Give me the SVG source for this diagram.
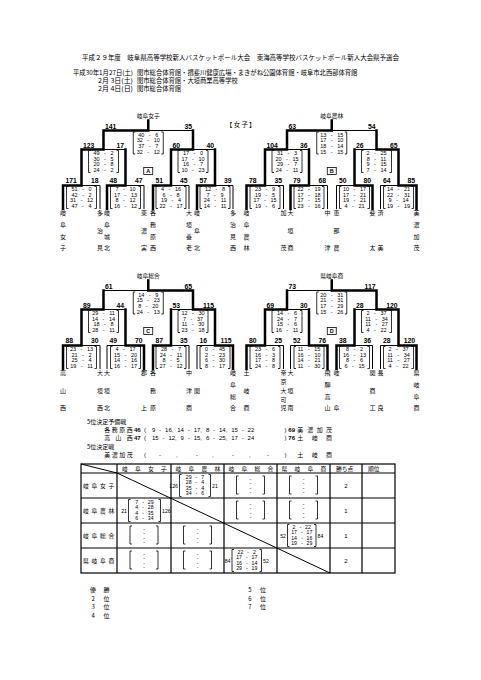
<svg xmlns="http://www.w3.org/2000/svg" width="481" height="680" viewBox="0 0 481 680">
<style>
text{font-family:"Noto Sans CJK JP","Noto Sans CJK SC",sans-serif;fill:#000}
.hd{font-size:6.3px}
.ttl{font-size:5.8px;text-anchor:middle}
.nm{font-size:6px;text-anchor:middle}
.lb{font-family:"Liberation Sans",Arial,sans-serif;font-size:6.8px;font-weight:bold}
.lbr{font-family:"Liberation Sans",Arial,sans-serif;font-size:6.8px;font-weight:bold;text-anchor:end}
.sc{font-family:"Liberation Sans",Arial,sans-serif;font-size:5.5px;text-anchor:middle;word-spacing:3px}
.blk{font-family:"Liberation Sans",Arial,sans-serif;font-size:5.5px;font-weight:bold;text-anchor:middle}
.thin{fill:none;stroke:#000;stroke-width:1}
.thick{fill:none;stroke:#000;stroke-width:2.5;stroke-linecap:square}
.bk{fill:none;stroke:#000;stroke-width:0.8}
.tb{fill:none;stroke:#000;stroke-width:1.2}
.ts{font-family:"Liberation Sans",Arial,sans-serif;font-size:5.2px;text-anchor:middle;word-spacing:2.5px}
.tn{font-family:"Liberation Sans",Arial,sans-serif;font-size:5.2px}
.tne{font-family:"Liberation Sans",Arial,sans-serif;font-size:5.2px;text-anchor:end}
.td{font-family:"Liberation Sans",Arial,sans-serif;font-size:5px;text-anchor:middle}
.r5{font-size:6px}
.num{font-family:"Liberation Sans",Arial,sans-serif;font-size:6px}
.numb{font-family:"Liberation Sans",Arial,sans-serif;font-size:6px;font-weight:bold}
.th{font-size:5.8px}
.pt{font-family:"Liberation Sans",Arial,sans-serif;font-size:6px;text-anchor:middle}
</style>
<defs>
<path id="skel" class="thin" d="M103.5,130.5H193M103.5,130.5V149.5M193,130.5V149.5M81.5,149.5H125.5M171,149.5H215M81.5,149.5V185.5M125.5,149.5V185.5M171,149.5V185.5M215,149.5V185.5M63,185.5H100M107,185.5H144M153,185.5H189M197,185.5H233M63,185.5V209M100,185.5V209M107,185.5V209M144,185.5V209M153,185.5V209M189,185.5V209M197,185.5V209M233,185.5V209"/>
<path id="bk" class="bk" d="M-13,0H-15V22H-13M13,0H15V22H13"/>
<g id="empty">
<path class="bk" d="M-12,3H-14V21H-12M12,3H14V21H12"/>
<text class="td"><tspan x="0" y="7.6">-</tspan><tspan x="0" y="11.6">-</tspan><tspan x="0" y="16.6">-</tspan><tspan x="0" y="21.2">-</tspan></text>
</g>
</defs>
<rect width="481" height="680" fill="#fff"/>

<g id="header">
<text class="hd" x="82" y="59.5" textLength="317" lengthAdjust="spacingAndGlyphs">平成２９年度　岐阜県高等学校新人バスケットボール大会　東海高等学校バスケットボール新人大会県予選会</text>
<text class="hd" x="73" y="74.5" textLength="60" lengthAdjust="spacingAndGlyphs">平成30年1月27日(土)</text>
<text class="hd" x="137" y="74.5">関市総合体育館・揖斐川健康広場・まきがね公園体育館・岐阜市北西部体育館</text>
<text class="hd" x="98" y="82.5" textLength="35" lengthAdjust="spacingAndGlyphs">2月 3日(土)</text>
<text class="hd" x="137" y="82.5">関市総合体育館・大垣商業高等学校</text>
<text class="hd" x="98" y="90.5" textLength="35" lengthAdjust="spacingAndGlyphs">2月 4日(日)</text>
<text class="hd" x="137" y="90.5">関市総合体育館</text>
<text class="hd" x="226" y="127.2">【 女 子 】</text>
</g>

<g id="connectors">
<g id="conn-A">
<use href="#skel"/>
<path class="thick" d="M63,209V185.5H81.5V149.5M107,209V185.5H125.5V149.5M153,209V185.5H171V149.5M197,209V185.5H215V149.5M81.5,149.5H103.5V130.5M171,149.5H193V130.5M103.5,130.5H148.25V120.5"/>
</g>
<g id="conn-B" transform="translate(183.5,0)">
<use href="#skel"/>
<path class="thick" d="M63,209V185.5H81.5V149.5M107,209V185.5H125.5V149.5M189,209V185.5H171V149.5M233,209V185.5H215V149.5M81.5,149.5H103.5V130.5M215,149.5H193V130.5M103.5,130.5H148.25V120.5"/>
</g>
<g id="conn-C" transform="translate(0,160)">
<use href="#skel"/>
<path class="thick" d="M63,209V185.5H81.5V149.5M144,209V185.5H125.5V149.5M153,209V185.5H171V149.5M233,209V185.5H215V149.5M81.5,149.5H103.5V130.5M215,149.5H193V130.5M193,130.5H148.25V120.5"/>
</g>
<g id="conn-D" transform="translate(183.5,160)">
<use href="#skel"/>
<path class="thick" d="M63,209V185.5H81.5V149.5M144,209V185.5H125.5V149.5M153,209V185.5H171V149.5M233,209V185.5H215V149.5M81.5,149.5H103.5V130.5M215,149.5H193V130.5M193,130.5H148.25V120.5"/>
</g>
</g>

<!-- Block A -->
<g id="block-A">
<g id="A-title"><text class="ttl" x="148.25" y="117.5">岐阜女子</text></g>
<g id="A-label"><rect class="bk" x="143.75" y="167.5" width="9" height="7"/><text class="blk" x="148.25" y="173.2">A</text></g>
<g id="A-points">
<text class="lb" x="105" y="128.5">141</text><text class="lbr" x="192" y="128.5">35</text>
<text class="lb" x="83" y="147.5">123</text><text class="lbr" x="124" y="147.5">17</text>
<text class="lb" x="172.5" y="147.5">60</text><text class="lbr" x="214" y="147.5">40</text>
<text class="lb" x="65.5" y="182.5">171</text><text class="lbr" x="98.5" y="182.5">18</text>
<text class="lb" x="109.5" y="182.5">48</text><text class="lbr" x="142.5" y="182.5">47</text>
<text class="lb" x="155.5" y="182.5">51</text><text class="lbr" x="187.5" y="182.5">45</text>
<text class="lb" x="199.5" y="182.5">57</text><text class="lbr" x="231.5" y="182.5">39</text>
</g>
<g id="A-f"><use href="#bk" x="148.25" y="132"/><text class="sc"><tspan x="148.25" y="136.5">40 - 6</tspan><tspan x="148.25" y="142.2">32 - 10</tspan><tspan x="148.25" y="147.8">37 - 7</tspan><tspan x="148.25" y="153.5">32 - 12</tspan></text></g>
<g id="A-s1"><use href="#bk" x="103.5" y="150.5"/><text class="sc"><tspan x="103.5" y="155">49 - 2</tspan><tspan x="103.5" y="160.7">30 - 5</tspan><tspan x="103.5" y="166.3">20 - 8</tspan><tspan x="103.5" y="172">24 - 2</tspan></text></g>
<g id="A-s2"><use href="#bk" x="193" y="150.5"/><text class="sc"><tspan x="193" y="155">17 - 0</tspan><tspan x="193" y="160.7">17 - 10</tspan><tspan x="193" y="166.3">16 - 7</tspan><tspan x="193" y="172">10 - 23</tspan></text></g>
<g id="A-q1"><use href="#bk" x="81.5" y="186.5"/><text class="sc"><tspan x="81.5" y="191">51 - 0</tspan><tspan x="81.5" y="196.7">42 - 2</tspan><tspan x="81.5" y="202.3">31 - 12</tspan><tspan x="81.5" y="208">47 - 4</tspan></text></g>
<g id="A-q2"><use href="#bk" x="125.5" y="186.5"/><text class="sc"><tspan x="125.5" y="191">7 - 10</tspan><tspan x="125.5" y="196.7">17 - 13</tspan><tspan x="125.5" y="202.3">8 - 12</tspan><tspan x="125.5" y="208">16 - 12</tspan></text></g>
<g id="A-q3"><use href="#bk" x="171" y="186.5"/><text class="sc"><tspan x="171" y="191">4 - 16</tspan><tspan x="171" y="196.7">6 - 8</tspan><tspan x="171" y="202.3">19 - 4</tspan><tspan x="171" y="208">22 - 17</tspan></text></g>
<g id="A-q4"><use href="#bk" x="215" y="186.5"/><text class="sc"><tspan x="215" y="191">12 - 8</tspan><tspan x="215" y="196.7">7 - 9</tspan><tspan x="215" y="202.3">24 - 11</tspan><tspan x="215" y="208">14 - 11</tspan></text></g>
<g id="A-t1"><text class="nm" x="63 63 63 63" y="215.4 227.1 238.7 250.4">岐阜女子</text></g>
<g id="A-t2"><text class="nm" x="100 100 100" y="215.4 232.9 250.4">多治見</text></g>
<g id="A-t3"><text class="nm" x="107 107 107 107" y="215.4 227.1 238.7 250.4">岐阜城北</text></g>
<g id="A-t4"><text class="nm" x="144 144 144" y="215.4 232.9 250.4">東濃実</text></g>
<g id="A-t5"><text class="nm" x="153 153 153 153" y="215.4 227.1 238.7 250.4">各務原西</text></g>
<g id="A-t6"><text class="nm" x="189 189 189 189" y="215.4 227.1 238.7 250.4">大垣養老</text></g>
<g id="A-t7"><text class="nm" x="197 197 197" y="215.4 232.9 250.4">岐阜北</text></g>
<g id="A-t8"><text class="nm" x="233 233 233 233" y="215.4 227.1 238.7 250.4">多治見西</text></g>
</g>

<!-- Block B -->
<g id="block-B" transform="translate(183.5,0)">
<g id="B-title"><text class="ttl" x="148.25" y="117.5">岐阜農林</text></g>
<g id="B-label"><rect class="bk" x="143.75" y="167.5" width="9" height="7"/><text class="blk" x="148.25" y="173.2">B</text></g>
<g id="B-points">
<text class="lb" x="105" y="128.5">63</text><text class="lbr" x="192" y="128.5">54</text>
<text class="lb" x="83" y="147.5">104</text><text class="lbr" x="124" y="147.5">36</text>
<text class="lb" x="172.5" y="147.5">26</text><text class="lbr" x="214" y="147.5">65</text>
<text class="lb" x="65.5" y="182.5">78</text><text class="lbr" x="98.5" y="182.5">35</text>
<text class="lb" x="109.5" y="182.5">79</text><text class="lbr" x="142.5" y="182.5">68</text>
<text class="lb" x="155.5" y="182.5">50</text><text class="lbr" x="187.5" y="182.5">80</text>
<text class="lb" x="199.5" y="182.5">64</text><text class="lbr" x="231.5" y="182.5">85</text>
</g>
<g id="B-f"><use href="#bk" x="148.25" y="132"/><text class="sc"><tspan x="148.25" y="136.5">13 - 15</tspan><tspan x="148.25" y="142.2">17 - 10</tspan><tspan x="148.25" y="147.8">18 - 14</tspan><tspan x="148.25" y="153.5">15 - 15</tspan></text></g>
<g id="B-s1"><use href="#bk" x="103.5" y="150.5"/><text class="sc"><tspan x="103.5" y="155">31 - 3</tspan><tspan x="103.5" y="160.7">20 - 15</tspan><tspan x="103.5" y="166.3">29 - 7</tspan><tspan x="103.5" y="172">24 - 11</tspan></text></g>
<g id="B-s2"><use href="#bk" x="193" y="150.5"/><text class="sc"><tspan x="193" y="155">2 - 25</tspan><tspan x="193" y="160.7">8 - 11</tspan><tspan x="193" y="166.3">9 - 15</tspan><tspan x="193" y="172">7 - 14</tspan></text></g>
<g id="B-q1"><use href="#bk" x="81.5" y="186.5"/><text class="sc"><tspan x="81.5" y="191">23 - 9</tspan><tspan x="81.5" y="196.7">19 - 5</tspan><tspan x="81.5" y="202.3">17 - 15</tspan><tspan x="81.5" y="208">19 - 6</tspan></text></g>
<g id="B-q2"><use href="#bk" x="125.5" y="186.5"/><text class="sc"><tspan x="125.5" y="191">22 - 19</tspan><tspan x="125.5" y="196.7">17 - 18</tspan><tspan x="125.5" y="202.3">17 - 15</tspan><tspan x="125.5" y="208">23 - 16</tspan></text></g>
<g id="B-q3"><use href="#bk" x="171" y="186.5"/><text class="sc"><tspan x="171" y="191">10 - 17</tspan><tspan x="171" y="196.7">17 - 21</tspan><tspan x="171" y="202.3">19 - 21</tspan><tspan x="171" y="208">4 - 21</tspan></text></g>
<g id="B-q4"><use href="#bk" x="215" y="186.5"/><text class="sc"><tspan x="215" y="191">14 - 21</tspan><tspan x="215" y="196.7">22 - 31</tspan><tspan x="215" y="202.3">9 - 14</tspan><tspan x="215" y="208">19 - 19</tspan></text></g>
<g id="B-t1"><text class="nm" x="63 63 63 63" y="215.4 227.1 238.7 250.4">岐阜農林</text></g>
<g id="B-t2"><text class="nm" x="100 100" y="215.4 250.4">加茂</text></g>
<g id="B-t3"><text class="nm" x="107 107 107" y="215.4 232.9 250.4">大垣商</text></g>
<g id="B-t4"><text class="nm" x="144 144" y="215.4 250.4">中津</text></g>
<g id="B-t5"><text class="nm" x="153 153 153" y="215.4 232.9 250.4">恵那農</text></g>
<g id="B-t6"><text class="nm" x="189 189" y="215.4 250.4">斐太</text></g>
<g id="B-t7"><text class="nm" x="197 197" y="215.4 250.4">済美</text></g>
<g id="B-t8"><text class="nm" x="233 233 233 233" y="215.4 227.1 238.7 250.4">美濃加茂</text></g>
</g>

<!-- Block C -->
<g id="block-C" transform="translate(0,160)">
<g id="C-title"><text class="ttl" x="148.25" y="117.5">岐阜総合</text></g>
<g id="C-label"><rect class="bk" x="143.75" y="167.5" width="9" height="7"/><text class="blk" x="148.25" y="173.2">C</text></g>
<g id="C-points">
<text class="lb" x="105" y="128.5">61</text><text class="lbr" x="192" y="128.5">65</text>
<text class="lb" x="83" y="147.5">89</text><text class="lbr" x="124" y="147.5">44</text>
<text class="lb" x="172.5" y="147.5">53</text><text class="lbr" x="214" y="147.5">115</text>
<text class="lb" x="65.5" y="182.5">88</text><text class="lbr" x="98.5" y="182.5">30</text>
<text class="lb" x="109.5" y="182.5">49</text><text class="lbr" x="142.5" y="182.5">70</text>
<text class="lb" x="155.5" y="182.5">87</text><text class="lbr" x="187.5" y="182.5">35</text>
<text class="lb" x="199.5" y="182.5">16</text><text class="lbr" x="231.5" y="182.5">115</text>
</g>
<g id="C-f"><use href="#bk" x="148.25" y="132"/><text class="sc"><tspan x="148.25" y="136.5">14 - 9</tspan><tspan x="148.25" y="142.2">15 - 23</tspan><tspan x="148.25" y="147.8">8 - 20</tspan><tspan x="148.25" y="153.5">24 - 13</tspan></text></g>
<g id="C-s1"><use href="#bk" x="103.5" y="150.5"/><text class="sc"><tspan x="103.5" y="155">29 - 11</tspan><tspan x="103.5" y="160.7">14 - 14</tspan><tspan x="103.5" y="166.3">18 - 8</tspan><tspan x="103.5" y="172">28 - 11</tspan></text></g>
<g id="C-s2"><use href="#bk" x="193" y="150.5"/><text class="sc"><tspan x="193" y="155">12 - 30</tspan><tspan x="193" y="160.7">7 - 37</tspan><tspan x="193" y="166.3">11 - 30</tspan><tspan x="193" y="172">23 - 18</tspan></text></g>
<g id="C-q1"><use href="#bk" x="81.5" y="186.5"/><text class="sc"><tspan x="81.5" y="191">23 - 13</tspan><tspan x="81.5" y="196.7">21 - 2</tspan><tspan x="81.5" y="202.3">25 - 4</tspan><tspan x="81.5" y="208">19 - 11</tspan></text></g>
<g id="C-q2"><use href="#bk" x="125.5" y="186.5"/><text class="sc"><tspan x="125.5" y="191">4 - 17</tspan><tspan x="125.5" y="196.7">15 - 20</tspan><tspan x="125.5" y="202.3">14 - 16</tspan><tspan x="125.5" y="208">16 - 17</tspan></text></g>
<g id="C-q3"><use href="#bk" x="171" y="186.5"/><text class="sc"><tspan x="171" y="191">28 - 7</tspan><tspan x="171" y="196.7">24 - 11</tspan><tspan x="171" y="202.3">8 - 5</tspan><tspan x="171" y="208">27 - 12</tspan></text></g>
<g id="C-q4"><use href="#bk" x="215" y="186.5"/><text class="sc"><tspan x="215" y="191">0 - 45</tspan><tspan x="215" y="196.7">2 - 23</tspan><tspan x="215" y="202.3">6 - 30</tspan><tspan x="215" y="208">8 - 17</tspan></text></g>
<g id="C-t1"><text class="nm" x="63 63 63" y="215.4 232.9 250.4">高山西</text></g>
<g id="C-t2"><text class="nm" x="100 100 100" y="215.4 232.9 250.4">大垣西</text></g>
<g id="C-t3"><text class="nm" x="107 107 107" y="215.4 232.9 250.4">大垣北</text></g>
<g id="C-t4"><text class="nm" x="144 144" y="215.4 250.4">郡上</text></g>
<g id="C-t5"><text class="nm" x="153 153 153" y="215.4 232.9 250.4">各務原</text></g>
<g id="C-t6"><text class="nm" x="189 189 189" y="215.4 232.9 250.4">中津商</text></g>
<g id="C-t7"><text class="nm" x="197" y="232.9">関</text></g>
<g id="C-t8"><text class="nm" x="233 233 233 233" y="215.4 227.1 238.7 250.4">岐阜総合</text></g>
</g>

<!-- Block D -->
<g id="block-D" transform="translate(183.5,160)">
<g id="D-title"><text class="ttl" x="148.25" y="117.5">県岐阜商</text></g>
<g id="D-label"><rect class="bk" x="143.75" y="167.5" width="9" height="7"/><text class="blk" x="148.25" y="173.2">D</text></g>
<g id="D-points">
<text class="lb" x="105" y="128.5">73</text><text class="lbr" x="192" y="128.5">117</text>
<text class="lb" x="83" y="147.5">69</text><text class="lbr" x="124" y="147.5">30</text>
<text class="lb" x="172.5" y="147.5">28</text><text class="lbr" x="214" y="147.5">120</text>
<text class="lb" x="65.5" y="182.5">80</text><text class="lbr" x="98.5" y="182.5">25</text>
<text class="lb" x="109.5" y="182.5">52</text><text class="lbr" x="142.5" y="182.5">76</text>
<text class="lb" x="155.5" y="182.5">38</text><text class="lbr" x="187.5" y="182.5">36</text>
<text class="lb" x="199.5" y="182.5">28</text><text class="lbr" x="231.5" y="182.5">120</text>
</g>
<g id="D-f"><use href="#bk" x="148.25" y="132"/><text class="sc"><tspan x="148.25" y="136.5">20 - 31</tspan><tspan x="148.25" y="142.2">21 - 31</tspan><tspan x="148.25" y="147.8">17 - 29</tspan><tspan x="148.25" y="153.5">15 - 26</tspan></text></g>
<g id="D-s1"><use href="#bk" x="103.5" y="150.5"/><text class="sc"><tspan x="103.5" y="155">14 - 6</tspan><tspan x="103.5" y="160.7">24 - 7</tspan><tspan x="103.5" y="166.3">15 - 6</tspan><tspan x="103.5" y="172">16 - 11</tspan></text></g>
<g id="D-s2"><use href="#bk" x="193" y="150.5"/><text class="sc"><tspan x="193" y="155">2 - 37</tspan><tspan x="193" y="160.7">11 - 34</tspan><tspan x="193" y="166.3">11 - 27</tspan><tspan x="193" y="172">4 - 22</tspan></text></g>
<g id="D-q1"><use href="#bk" x="81.5" y="186.5"/><text class="sc"><tspan x="81.5" y="191">23 - 6</tspan><tspan x="81.5" y="196.7">16 - 3</tspan><tspan x="81.5" y="202.3">17 - 8</tspan><tspan x="81.5" y="208">24 - 8</tspan></text></g>
<g id="D-q2"><use href="#bk" x="125.5" y="186.5"/><text class="sc"><tspan x="125.5" y="191">11 - 15</tspan><tspan x="125.5" y="196.7">16 - 10</tspan><tspan x="125.5" y="202.3">14 - 21</tspan><tspan x="125.5" y="208">11 - 30</tspan></text></g>
<g id="D-q3"><use href="#bk" x="171" y="186.5"/><text class="sc"><tspan x="171" y="191">8 - 2</tspan><tspan x="171" y="196.7">16 - 13</tspan><tspan x="171" y="202.3">8 - 6</tspan><tspan x="171" y="208">6 - 15</tspan></text></g>
<g id="D-q4"><use href="#bk" x="215" y="186.5"/><text class="sc"><tspan x="215" y="191">2 - 37</tspan><tspan x="215" y="196.7">11 - 34</tspan><tspan x="215" y="202.3">11 - 27</tspan><tspan x="215" y="208">4 - 22</tspan></text></g>
<g id="D-t1"><text class="nm" x="63 63 63" y="215.4 232.9 250.4">土岐商</text></g>
<g id="D-t2"><text class="nm" x="100 100 100 100 100" y="215.4 224.2 232.9 241.7 250.4">帝京大可児</text></g>
<g id="D-t3"><text class="nm" x="107 107 107" y="215.4 232.9 250.4">大垣南</text></g>
<g id="D-t4"><text class="nm" x="144 144 144 144" y="215.4 227.1 238.7 250.4">飛騨高山</text></g>
<g id="D-t5"><text class="nm" x="153 153" y="215.4 250.4">岐阜</text></g>
<g id="D-t6"><text class="nm" x="189 189 189" y="215.4 232.9 250.4">関商工</text></g>
<g id="D-t7"><text class="nm" x="197 197" y="215.4 250.4">長良</text></g>
<g id="D-t8"><text class="nm" x="233 233 233 233" y="215.4 227.1 238.7 250.4">県岐阜商</text></g>
</g>

<!-- 5th place -->
<g id="fifth">
<text class="r5" x="87" y="424">5位決定予備戦</text>
<text class="r5" x="104.3 111.7 119.3 126.7" y="432">各務原西</text>
<text class="numb" x="134" y="432">46</text>
<text class="num" x="144" y="432">(</text>
<text class="num" x="152" y="432" word-spacing="2.2">9 - 16, 14 - 17, 8 - 14, 15 - 22</text>
<text class="num" x="284.5" y="432">)</text>
<text class="numb" x="288.3" y="432">69</text>
<text class="r5" x="297.3 307.3 316.7 326" y="432">美濃加茂</text>
<text class="r5" x="104.3 115.5 126.7" y="439.5">高山西</text>
<text class="numb" x="134" y="439.5">47</text>
<text class="num" x="144" y="439.5">(</text>
<text class="num" x="152" y="439.5" word-spacing="2.2">15 - 12, 9 - 15, 6 - 25, 17 - 24</text>
<text class="num" x="284.5" y="439.5">)</text>
<text class="numb" x="288.3" y="439.5">76</text>
<text class="r5" x="297.3 311.7 326" y="439.5">土岐商</text>
<text class="r5" x="87" y="449">5位決定戦</text>
<text class="r5" x="104.3 111.7 119.3 126.7" y="456.5">美濃加茂</text>
<text class="num" x="144 159 176 196 212 232 249 267 284.5" y="456.5">(-,-,-,-)</text>
<text class="r5" x="297.3 311.7 326" y="456.5">土岐商</text>
</g>

<!-- League table -->
<g id="table">
<rect class="tb" x="81" y="464" width="314" height="109"/>
<path class="tb" d="M81,473H395M81,498H395M81,523H395M81,548H395M117,464V573M171,464V573M224,464V573M277,464V573M330,464V573M362,464V573"/>
<path class="thin" d="M81,464L117,473M117,473L330,573"/>
</g>
<g id="table-head">
<text class="th" x="122 135 148 161" y="471">岐阜女子</text>
<text class="th" x="175.5 188.5 201.5 214.5" y="471">岐阜農林</text>
<text class="th" x="228.5 241.5 254.5 267.5" y="471">岐阜総合</text>
<text class="th" x="281.5 294.5 307.5 320.5" y="471">県岐阜商</text>
<text class="th" x="336" y="471">勝ち点</text>
<text class="th" x="368" y="471">順位</text>
</g>
<g id="row-1">
<text class="th" x="83 91.5 100 108.5" y="487.5">岐阜女子</text>
<text class="tne" x="178" y="487.5">126</text>
<path class="bk" d="M181.5,474.5H179.5V496.5H181.5M208.5,474.5H210.5V496.5H208.5"/>
<text class="ts"><tspan x="195" y="478.5">29 - 7</tspan><tspan x="195" y="484">28 - 4</tspan><tspan x="195" y="489.5">35 - 4</tspan><tspan x="195" y="495">34 - 6</tspan></text>
<text class="tn" x="212" y="487.5">21</text>
<use href="#empty" x="250.5" y="473"/>
<use href="#empty" x="303.5" y="473"/>
<text class="pt" x="346" y="487.7">2</text>
</g>
<g id="row-2">
<text class="th" x="83 91.5 100 108.5" y="512.5">岐阜農林</text>
<text class="tne" x="127" y="512.5">21</text>
<path class="bk" d="M130.5,499.5H128.5V521.5H130.5M158.5,499.5H160.5V521.5H158.5"/>
<text class="ts"><tspan x="144.5" y="503.5">7 - 29</tspan><tspan x="144.5" y="509">4 - 28</tspan><tspan x="144.5" y="514.5">4 - 35</tspan><tspan x="144.5" y="520">6 - 34</tspan></text>
<text class="tn" x="162" y="512.5">126</text>
<use href="#empty" x="250.5" y="498"/>
<use href="#empty" x="303.5" y="498"/>
<text class="pt" x="346" y="512.7">1</text>
</g>
<g id="row-3">
<text class="th" x="83 91.5 100 108.5" y="537.5">岐阜総合</text>
<use href="#empty" x="144" y="523"/>
<use href="#empty" x="197.5" y="523"/>
<text class="tne" x="286" y="537.5">52</text>
<path class="bk" d="M289.5,524.5H287.5V546.5H289.5M314,524.5H316V546.5H314"/>
<text class="ts"><tspan x="301.75" y="528.5">2 - 22</tspan><tspan x="301.75" y="534">17 - 17</tspan><tspan x="301.75" y="539.5">14 - 16</tspan><tspan x="301.75" y="545">19 - 29</tspan></text>
<text class="tn" x="317.5" y="537.5">84</text>
<text class="pt" x="346" y="537.7">1</text>
</g>
<g id="row-4">
<text class="th" x="83 91.5 100 108.5" y="562.5">県岐阜商</text>
<use href="#empty" x="144" y="548"/>
<use href="#empty" x="197.5" y="548"/>
<text class="tne" x="230.5" y="562.5">84</text>
<path class="bk" d="M234,549.5H232V571.5H234M259.5,549.5H261.5V571.5H259.5"/>
<text class="ts"><tspan x="246.75" y="553.5">22 - 2</tspan><tspan x="246.75" y="559">17 - 17</tspan><tspan x="246.75" y="564.5">16 - 14</tspan><tspan x="246.75" y="570">29 - 19</tspan></text>
<text class="tn" x="263" y="562.5">52</text>
<text class="pt" x="346" y="562.7">2</text>
</g>

<!-- Final ranking -->
<g id="ranking">
<text class="r5" x="90 103.5" y="592.2">優勝</text>
<text class="r5" x="91.5 103.5" y="600.5">2位</text>
<text class="r5" x="91.5 103.5" y="608.9">3位</text>
<text class="r5" x="91.5 103.5" y="617.9">4位</text>
<text class="r5" x="248.3 260" y="592.2">5位</text>
<text class="r5" x="248.3 260" y="600.5">6位</text>
<text class="r5" x="248.3 260" y="608.9">7位</text>
</g>
</svg>
